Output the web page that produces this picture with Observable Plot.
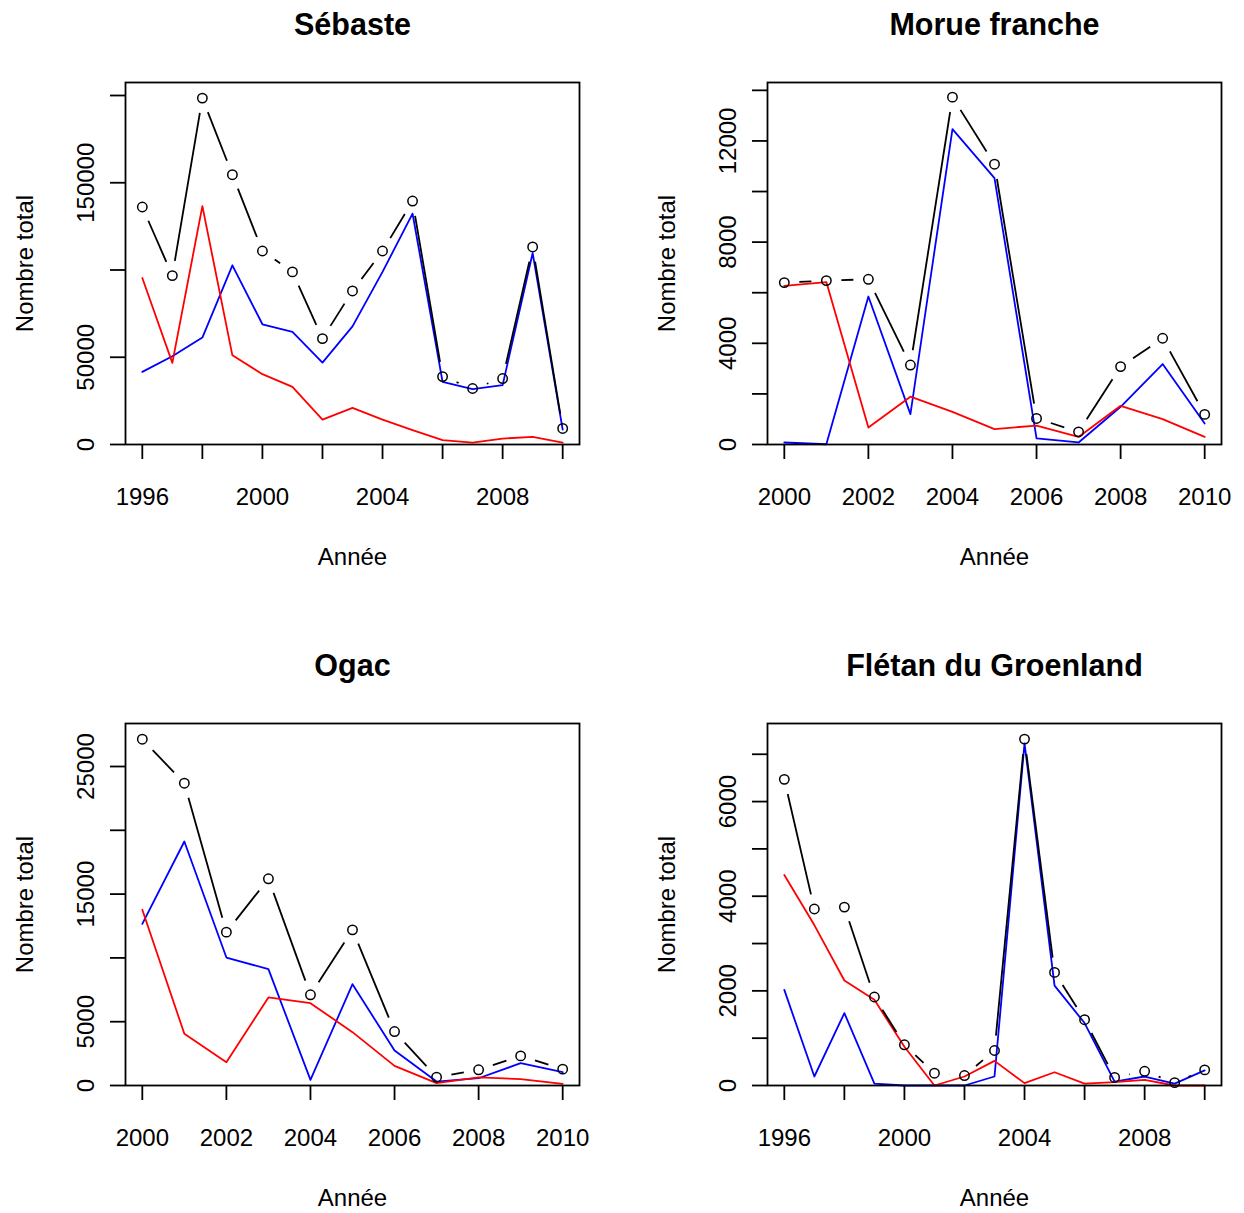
<!DOCTYPE html>
<html>
<head>
<meta charset="utf-8">
<script src="https://cdn.jsdelivr.net/npm/d3@7"></script>
<script src="https://cdn.jsdelivr.net/npm/@observablehq/plot@0.6"></script>
<style>
  html, body { margin: 0; padding: 0; background: #fff; }
  #wrap { position: relative; width: 1244px; height: 1213px; overflow: hidden; background: #fff; }
  .panel { position: absolute; }
</style>
</head>
<body>
<div id="wrap"></div>
<script>
// ---------- Data ----------
const yearsLong  = [1996,1997,1998,1999,2000,2001,2002,2003,2004,2005,2006,2007,2008,2009,2010];
const yearsShort = [2000,2001,2002,2003,2004,2005,2006,2007,2008,2009,2010];

// Sébaste
const sebasteTotal = [136100, 96800, 198500, 154600, 110900, 98900, 60700, 88000, 110900, 139500, 38900, 32100, 37800, 113200, 9200];
const sebasteBlue  = [41600, 50600, 61300, 102700, 68900, 64500, 46900, 67700, 98900, 132300, 35900, 31700, 34000, 109700, 8500];
const sebasteRed   = [95400, 46800, 136600, 51100, 40300, 33000, 14300, 21000, 14300, 8200, 2500, 1100, 3400, 4400, 1100];

// Morue franche
const morueTotal = [6400, 6480, 6530, 3140, 13730, 11080, 1030, 500, 3080, 4200, 1190];
const morueBlue  = [80, 10, 5850, 1200, 12470, 10530, 240, 80, 1490, 3180, 830];
const morueRed   = [6270, 6420, 670, 1890, 1290, 610, 750, 300, 1530, 1000, 300];

// Ogac
const ogacTotal = [27140, 23690, 12020, 16200, 7110, 12200, 4230, 650, 1230, 2320, 1280];
const ogacBlue  = [12670, 19120, 10030, 9120, 440, 7940, 2740, 310, 570, 1750, 1040];
const ogacRed   = [13770, 4050, 1830, 6900, 6450, 4180, 1540, 180, 630, 500, 130];

// Flétan du Groenland
const fletanTotal = [6470, 3730, 3770, 1870, 860, 260, 210, 740, 7320, 2390, 1390, 170, 300, 60, 330];
const fletanBlue  = [2020, 190, 1530, 40, 0, 0, 0, 190, 7230, 2110, 1320, 80, 190, 40, 320];
const fletanRed   = [4450, 3390, 2220, 1810, 820, 0, 190, 520, 50, 280, 40, 70, 120, 0, 0];

// Tick values and labels
const xTicksLong   = [1996,1998,2000,2002,2004,2006,2008,2010];
const xLabelsLong  = [1996,2000,2004,2008];
const xTicksShort  = [2000,2002,2004,2006,2008,2010];
const xLabelsShort = [2000,2002,2004,2006,2008,2010];

const sebasteYTicks  = [0,50000,100000,150000,200000];
const sebasteYLabels = [0,50000,150000];
const morueYTicks    = [0,2000,4000,6000,8000,10000,12000,14000];
const morueYLabels   = [0,4000,8000,12000];
const ogacYTicks     = [0,5000,10000,15000,20000,25000];
const ogacYLabels    = [0,5000,15000,25000];
const fletanYTicks   = [0,1000,2000,3000,4000,5000,6000,7000];
const fletanYLabels  = [0,2000,4000,6000];

const titles = ["Sébaste", "Morue franche", "Ogac", "Flétan du Groenland"];
const xTitle = "Année";
const yTitle = "Nombre total";

// ---------- Rendering ----------
const FONT = "'Liberation Sans', Arial, Helvetica, sans-serif";
const W = 604, H = 572;
const M = {left: 125, right: 25, top: 82, bottom: 128};

function panel({title, years, total, blue, red, xTicks, xLabels, yTicks, yLabels, yMax, left, top}) {
  const rows = years.map((yr, i) => ({year: yr, total: total[i], blue: blue[i], red: red[i]}));
  const span = years[years.length - 1] - years[0];
  const base = {
    width: W, height: H,
    marginLeft: M.left, marginRight: M.right, marginTop: M.top, marginBottom: M.bottom,
    style: {fontFamily: FONT, background: "white", overflow: "visible", color: "black"},
    x: {domain: [years[0] - span * 0.04, years[years.length - 1] + span * 0.04], axis: null},
    y: {domain: [0, yMax], axis: null}
  };
  // probe plot to obtain the scales
  const probe = Plot.plot({...base, marks: [Plot.dot(rows, {x: "year", y: "total"})]});
  const sx = probe.scale("x"), sy = probe.scale("y");
  const GAP = 15;
  const segs = [];
  for (let i = 0; i + 1 < rows.length; i++) {
    const ax = sx.apply(rows[i].year), ay = sy.apply(rows[i].total);
    const bx = sx.apply(rows[i + 1].year), by = sy.apply(rows[i + 1].total);
    const dx = bx - ax, dy = by - ay, d = Math.hypot(dx, dy);
    if (d <= 2 * GAP) continue;
    const f = GAP / d;
    segs.push({
      x1: sx.invert(ax + dx * f), y1: sy.invert(ay + dy * f),
      x2: sx.invert(bx - dx * f), y2: sy.invert(by - dy * f)
    });
  }

  const svg = Plot.plot({
    ...base,
    marks: [
      Plot.line(rows, {x: "year", y: "blue", stroke: "#0000FF", strokeWidth: 1.8}),
      Plot.line(rows, {x: "year", y: "red", stroke: "#FF0000", strokeWidth: 1.8}),
      Plot.link(segs, {x1: "x1", y1: "y1", x2: "x2", y2: "y2", stroke: "black", strokeWidth: 1.8}),
      Plot.dot(rows, {x: "year", y: "total", r: 4.7, stroke: "black", strokeWidth: 1.5, fill: "none"}),
      Plot.frame({stroke: "black", strokeWidth: 1.8}),
      Plot.axisX({
        ticks: xTicks, tickSize: 15, tickPadding: 28, fontSize: 24, strokeWidth: 1.8,
        tickFormat: d => xLabels.includes(d) ? String(d) : "", label: null
      }),
      Plot.axisY({
        ticks: yTicks, tickSize: 15, tickPadding: 17, tickRotate: -90,
        textAnchor: "middle", lineAnchor: "bottom", fontSize: 24, strokeWidth: 1.8,
        tickFormat: d => yLabels.includes(d) ? String(d) : "", label: null
      }),
      Plot.text([title], {frameAnchor: "top", dy: -48, lineAnchor: "bottom", fontSize: 30.5, fontWeight: "bold", fill: "black"}),
      Plot.text([xTitle], {frameAnchor: "bottom", dy: 120, lineAnchor: "bottom", fontSize: 24, fill: "black"}),
      Plot.text([yTitle], {frameAnchor: "left", dx: -93, rotate: -90, textAnchor: "middle", lineAnchor: "bottom", fontSize: 24, fill: "black"})
    ]
  });
  svg.classList.add("panel");
  svg.style.left = left + "px";
  svg.style.top = top + "px";
  document.getElementById("wrap").appendChild(svg);
}

panel({title: titles[0], years: yearsLong, total: sebasteTotal, blue: sebasteBlue, red: sebasteRed,
  xTicks: xTicksLong, xLabels: xLabelsLong, yTicks: sebasteYTicks, yLabels: sebasteYLabels, yMax: 207450, left: 0, top: 0});
panel({title: titles[1], years: yearsShort, total: morueTotal, blue: morueBlue, red: morueRed,
  xTicks: xTicksShort, xLabels: xLabelsShort, yTicks: morueYTicks, yLabels: morueYLabels, yMax: 14310, left: 642, top: 0});
panel({title: titles[2], years: yearsShort, total: ogacTotal, blue: ogacBlue, red: ogacRed,
  xTicks: xTicksShort, xLabels: xLabelsShort, yTicks: ogacYTicks, yLabels: ogacYLabels, yMax: 28370, left: 0, top: 641});
panel({title: titles[3], years: yearsLong, total: fletanTotal, blue: fletanBlue, red: fletanRed,
  xTicks: xTicksLong, xLabels: xLabelsLong, yTicks: fletanYTicks, yLabels: fletanYLabels, yMax: 7650, left: 642, top: 641});
</script>
</body>
</html>
